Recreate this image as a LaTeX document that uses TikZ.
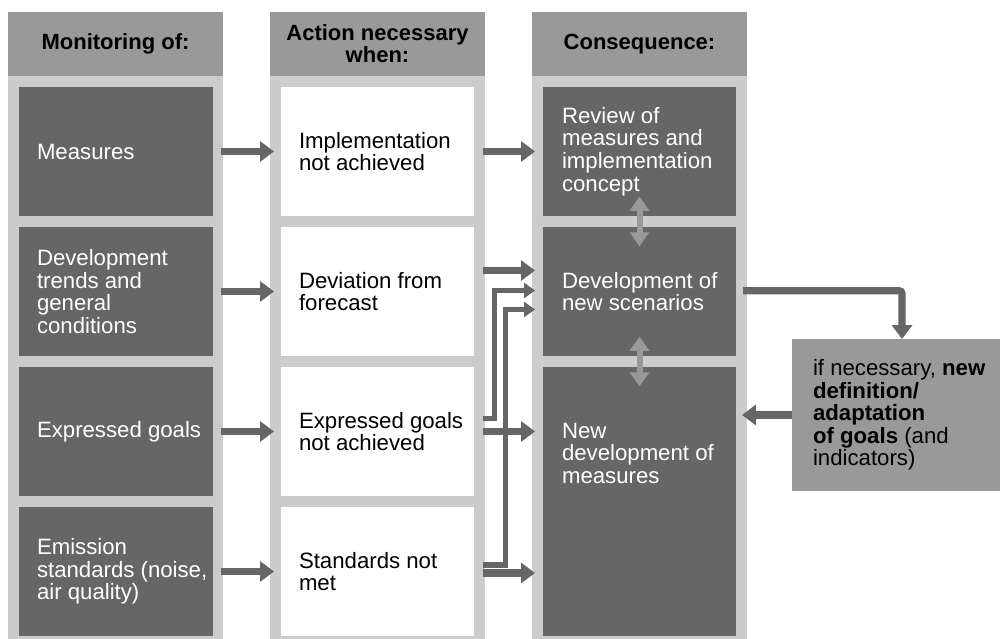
\documentclass[tikz,border=0pt]{standalone}
\usepackage{fontspec}
\setmainfont{Liberation Sans}
\usetikzlibrary{arrows.meta,calc}
\definecolor{dark}{HTML}{666666}
\definecolor{band}{HTML}{CCCCCC}
\definecolor{mid}{HTML}{999999}
\begin{document}
\begin{tikzpicture}[x=1pt,y=-1pt,
  every node/.style={inner sep=0pt, outer sep=0pt},
  txt/.style={font=\fontsize{22.2}{22.6}\selectfont, align=left},
  dtxt/.style={txt, text=white},
  wtxt/.style={txt, text=black},
  head/.style={fill=mid, minimum width=215pt, minimum height=64pt,
    font=\fontsize{22}{22}\selectfont\bfseries, align=center},
  bandbox/.style={fill=band, minimum width=215pt, minimum height=563pt},
  darkbox/.style={fill=dark, minimum width=194pt, minimum height=128.5pt},
  whitebox/.style={fill=white, minimum width=193pt, minimum height=128.5pt},
  arr/.style={draw=dark, line width=7.3pt, -{Triangle[width=20pt,length=14pt]}},
  thinarr/.style={draw=dark, line width=5.3pt, line join=miter,
    -{Triangle[width=15pt,length=11pt]}},
  dbl/.style={draw=mid, line width=6pt,
    {Triangle[width=19pt,length=14pt]}-{Triangle[width=19pt,length=14pt]}},
]
\useasboundingbox (0,0) rectangle (1000,639);

% column bands and headers
\node[bandbox] (b1) at (115.5,357.5) {};
\node[bandbox] (b2) at (377.5,357.5) {};
\node[bandbox] (b3) at (639.5,357.5) {};
\node[head] (h1) at (115.5,44) {Monitoring of:};
\node[head] (h2) at (377.5,44) {Action necessary\\when:};
\node[head] (h3) at (639.5,44) {Consequence:};

% monitoring column
\node[darkbox] (m1) at (115.5,151.5) {};
\node[darkbox] (m2) at (115.5,291.5) {};
\node[darkbox] (m3) at (115.5,431.5) {};
\node[darkbox] (m4) at (115.5,571.5) {};
\node[dtxt, anchor=west] (m1t) at ([xshift=18.5pt]m1.west) {Measures};
\node[dtxt, anchor=west] (m2t) at ([xshift=18.5pt]m2.west) {Development\\trends and\\general\\conditions};
\node[dtxt, anchor=west] (m3t) at ([xshift=18.5pt]m3.west) {Expressed goals};
\node[dtxt, anchor=west] (m4t) at ([xshift=18.5pt]m4.west) {Emission\\standards (noise,\\air quality)};

% action column
\node[whitebox] (w1) at (377.5,151.5) {};
\node[whitebox] (w2) at (377.5,291.5) {};
\node[whitebox] (w3) at (377.5,431.5) {};
\node[whitebox] (w4) at (377.5,571.5) {};
\node[wtxt, anchor=west] (w1t) at ([xshift=18pt]w1.west) {Implementation\\not achieved};
\node[wtxt, anchor=west] (w2t) at ([xshift=18pt]w2.west) {Deviation from\\forecast};
\node[wtxt, anchor=west] (w3t) at ([xshift=18pt]w3.west) {Expressed goals\\not achieved};
\node[wtxt, anchor=west] (w4t) at ([xshift=18pt]w4.west) {Standards not\\met};

% consequence column
\node[darkbox, minimum width=193pt] (c1) at (639.5,151.5) {};
\node[darkbox, minimum width=193pt] (c2) at (639.5,291.5) {};
\node[darkbox, minimum width=193pt, minimum height=268.5pt] (c3) at (639.5,501.5) {};
\node[dtxt, anchor=west] (c1t) at ([xshift=19pt]c1.west) {Review of\\measures and\\implementation\\concept};
\node[dtxt, anchor=west] (c2t) at ([xshift=19pt]c2.west) {Development of\\new scenarios};
\node[dtxt, anchor=north west] (c3t) at ([xshift=19pt,yshift=-55.75pt]c3.north west) {New\\development of\\measures};

% goals box
\node[fill=mid, minimum width=208pt, minimum height=152pt] (r) at (896,415) {};
\node[wtxt, anchor=west] (rt) at ([xshift=21pt]r.west)
  {if necessary, \textbf{new}\\\textbf{definition/}\\\textbf{adaptation}\\\textbf{of goals} (and\\indicators)};

% reference points for arrow ends
\coordinate (c2in) at ([xshift=-8pt]c2.west);
\coordinate (c3out) at ([xshift=6pt]c3.east);
\coordinate (r4) at ([xshift=8.7pt,yshift=-1.5pt]w4.east);

% monitoring -> action
\foreach \i in {1,2,3,4}
  \draw[arr] ([xshift=8.5pt]m\i.east) -- ([xshift=-7pt]w\i.west);

% action -> consequence
\draw[arr] ([xshift=8.7pt]w1.east) -- ([xshift=-8pt]c1.west);
\draw[arr] ([xshift=8.7pt,yshift=21pt]w2.east) -- ([xshift=-8pt,yshift=21pt]c2.west);
\draw[arr] ([xshift=8.7pt]w3.east) -- (w3.east -| c2in);
\draw[arr] (r4) -- (r4 -| c2in);
\draw[thinarr] ([xshift=8.7pt,yshift=13pt]w3.east) -- ++(12,0) |- ([yshift=1pt]c2in);
\draw[thinarr] ([xshift=8.7pt,yshift=6.5pt]w4.east) -- ++(23,0) |- ([yshift=-18pt]c2in);

% links inside the consequence column
\draw[dbl] ([yshift=19pt]c1.south) -- ([yshift=-19pt]c2.north);
\draw[dbl] ([yshift=19pt]c2.south) -- ([yshift=-19pt]c3.north);

% loop through the goals box
\draw[arr, rounded corners=3pt] ([xshift=7pt,yshift=0.8pt]c2.east) -| ([xshift=6pt]r.north);
\draw[arr] (r.west) -- (r.west -| c3out);
\end{tikzpicture}
\end{document}
